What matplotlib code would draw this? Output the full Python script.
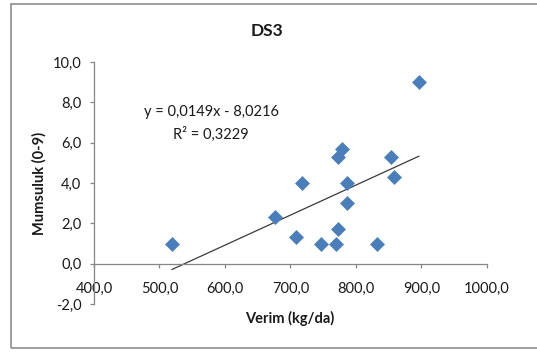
import numpy as np
import matplotlib
matplotlib.use("Agg")
import matplotlib.pyplot as plt
from matplotlib.patches import Rectangle
from matplotlib.ticker import FuncFormatter

plt.rcParams['font.family'] = ['Lato', 'DejaVu Sans']

# values
verim = [519, 676, 709, 717, 747, 770, 772, 772, 779, 787, 787, 832, 854, 858, 896]
mumsuluk = [1.0, 2.3, 1.3, 4.0, 1.0, 1.0, 1.7, 5.3, 5.7, 4.0, 3.0, 1.0, 5.3, 4.3, 9.0]
slope = 0.0149
intercept = -8.0216
r2 = 0.3229

W, H = 537, 352
fig = plt.figure(figsize=(W / 100, H / 100), dpi=100)

# chart border (Excel chart area)
fig.patches.append(Rectangle((11 / W, 1 - 348 / H), 1, (348 - 4) / H,
                             transform=fig.transFigure, fill=False,
                             edgecolor='#8c8c8c', linewidth=1.2))

ax = fig.add_axes([94 / W, 1 - 304 / H, (487 - 94) / W, (304 - 62) / H])

blue = '#4a7ebb'
ax.scatter(verim, mumsuluk, marker='D', s=58, color=blue, zorder=3, linewidths=0)

# linear trend line over the data range
x_line = np.array([min(verim), max(verim)])
ax.plot(x_line, slope * x_line + intercept, color='#3a3a3a', linewidth=0.9, zorder=2)

ax.set_xlim(400, 1000)
ax.set_ylim(-2, 10)
ax.set_xticks(np.arange(400, 1001, 100))
ax.set_yticks(np.arange(-2, 10.1, 2))
comma = FuncFormatter(lambda v, p: f"{v:.1f}".replace('.', ','))
ax.xaxis.set_major_formatter(comma)
ax.yaxis.set_major_formatter(comma)

for s in ['top', 'right']:
    ax.spines[s].set_visible(False)
ax.spines['bottom'].set_position(('data', 0))
for s in ['left', 'bottom']:
    ax.spines[s].set_color('#868686')
    ax.spines[s].set_linewidth(0.9)
ax.tick_params(axis='x', direction='out', length=3, width=0.9, color='#868686',
               pad=10, labelsize=10.5, labelcolor='#1a1a1a')
ax.tick_params(axis='y', direction='out', length=3, width=0.9, color='#868686',
               pad=6, labelsize=10.5, labelcolor='#1a1a1a')
ax.patch.set_alpha(0)

eq = f"y = {slope:.4f}x - {abs(intercept):.4f}".replace('.', ',')
fig.text(211 / W, 1 - 112 / H, eq, ha='center', va='center',
         fontsize=10.5, color='#1a1a1a')
fig.text(211 / W, 1 - 134 / H, f"R² = {r2:.4f}".replace('.', ','),
         ha='center', va='center', fontsize=10.5, color='#1a1a1a')

fig.text(267 / W, 1 - 31 / H, "DS3", ha='center', va='center',
         fontsize=12.5, fontweight='bold', color='#1a1a1a')
fig.text(290 / W, 1 - 318 / H, "Verim (kg/da)", ha='center', va='center',
         fontsize=10.5, fontweight='bold', color='#1a1a1a')
fig.text(39 / W, 1 - 183 / H, "Mumsuluk (0-9)", ha='center', va='center',
         rotation=90, fontsize=10.5, fontweight='bold', color='#1a1a1a')

fig.savefig('out.png', dpi=100)
